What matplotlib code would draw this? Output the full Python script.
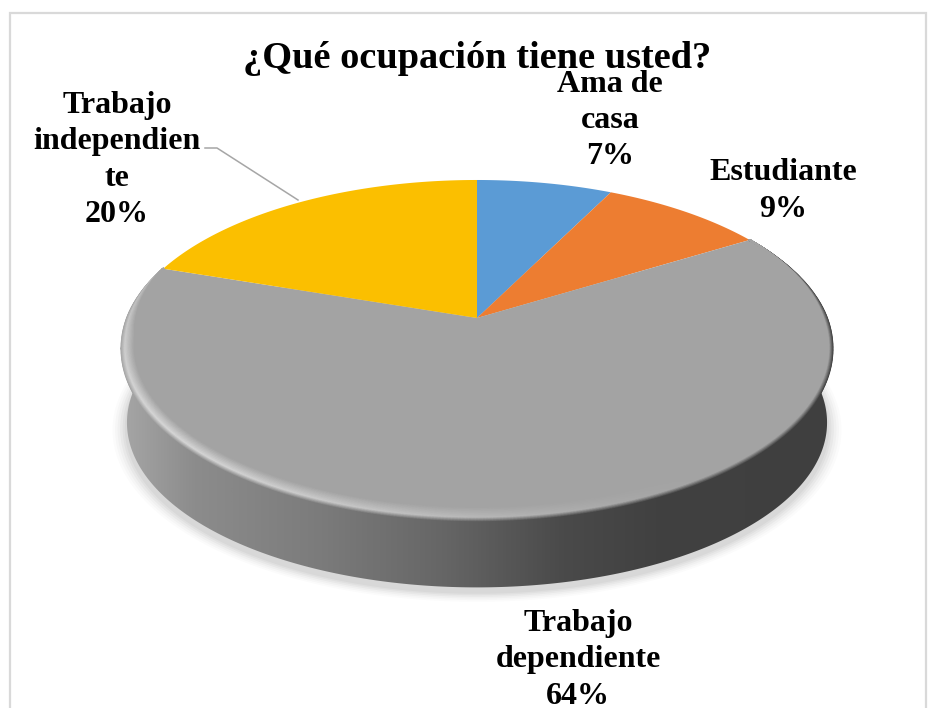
import matplotlib
matplotlib.use('Agg')
import matplotlib.pyplot as plt
import numpy as np
from matplotlib.collections import LineCollection
from matplotlib.colors import LinearSegmentedColormap, to_rgb
from matplotlib.patches import Polygon, Rectangle

title = '¿Qué ocupación tiene usted?'
categories = ['Ama de\ncasa', 'Estudiante', 'Trabajo\ndependiente', 'Trabajo\nindependien\nte']
shares = [7.3, 8.9, 64.0, 19.8]
colors = ['#5b9bd5', '#ed7d31', '#a3a3a3', '#fbbf00']

plt.rcParams['font.family'] = ['Liberation Serif', 'DejaVu Serif']

# pie disc as seen in perspective, everything in image pixels
cx, cy = 477, 318
bx, by, k = 350, 162.3, 0.176
depth = 76


def disc(theta, s=1.0, dy=0.0):
    # theta clockwise from 12 o'clock
    u, v = s * np.sin(theta), s * np.cos(theta)
    d = 1 + k * v
    return np.column_stack([cx + bx * u / d, cy - by * v / d + dy])


fig = plt.figure(figsize=(9.34, 7.08), dpi=100)
ax = fig.add_axes([0, 0, 1, 1])
ax.set_xlim(0, 934)
ax.set_ylim(708, 0)
ax.axis('off')

# chart frame
ax.add_patch(Rectangle((9.5, 13), 916, 720, fc='white', ec='#d9d9d9', lw=1.6))

full = np.linspace(0, 2 * np.pi, 721)

# soft shadow under the side wall
for grow, a in zip([1.04, 1.033, 1.026, 1.019, 1.012, 1.006], [0.015, 0.02, 0.025, 0.03, 0.03, 0.03]):
    ax.add_patch(Polygon(disc(full, grow * 0.985, depth + 5), fc='black', ec='none', alpha=a))

# side wall with a left to right gradient
wall_cmap = LinearSegmentedColormap.from_list('wall', [
    (0.0, '#a6a6a6'), (0.1, '#8c8c8c'), (0.28, '#7b7b7b'), (0.45, '#666666'),
    (0.62, '#4a4a4a'), (0.75, '#414141'), (1.0, '#3f3f3f')])
im = ax.imshow(np.linspace(0, 1, 512)[None, :], cmap=wall_cmap, aspect='auto',
               extent=(122, 834, 600, 300), zorder=2)
ax.set_xlim(0, 934)
ax.set_ylim(708, 0)
lower = full[(full > np.pi / 2 - 0.2) & (full < 3 * np.pi / 2 + 0.2)]
wall_poly = Polygon(np.vstack([disc(lower), disc(lower[::-1], 0.985, depth)]), transform=ax.transData)
im.set_clip_path(wall_poly)

# top face: slices start at 12 o'clock and run clockwise
edges = np.cumsum([0] + shares) / sum(shares) * 2 * np.pi
for a0, a1, c in zip(edges[:-1], edges[1:], colors):
    arc = disc(np.linspace(a0, a1, 200))
    ax.add_patch(Polygon(np.vstack([[cx, cy], arc]), fc=c, ec='none', zorder=3))

# bevelled rim on the grey slice, outer ring first
rim = np.linspace(edges[2], edges[3], 500)
mid = 0.5 * (rim[:-1] + rim[1:])
base = to_rgb(colors[2])[0]
width = 0.037 * np.minimum(np.clip((rim - edges[2]) / np.radians(32), 0, 1),
                           np.clip((edges[3] - rim) / np.radians(25), 0, 1))
drop = 6 * np.clip(-np.cos(rim), 0, 1)
lit = np.clip(np.cos(mid - np.radians(235)), 0, 1) ** 1.6
peak = base + (0.84 - base) * lit
for p in np.linspace(0, 1, 24):
    pts = disc(rim, 1 - width * p, drop * (1 - p))
    segs = np.stack([pts[:-1], pts[1:]], axis=1)
    xm = segs[:, :, 0].mean(axis=1)
    side = np.array(wall_cmap(np.clip((xm - 122) / 712, 0, 1)))[:, 0]
    # upper part of the edge has no wall behind it, keep it nearly flat on the left
    outer = np.where((mid > np.radians(265)), base, side)
    if p < 0.3:
        g = outer + (peak - outer) * (p / 0.3)
    else:
        g = peak + (base - peak) * ((p - 0.3) / 0.7)
    ax.add_collection(LineCollection(segs, colors=np.column_stack([g, g, g]), linewidths=1.3,
                                     zorder=4, capstyle='round'))

ax.text(477, 59, title, fontsize=27.6, fontweight='bold', ha='center', va='center', zorder=6)

# leader line of the independent slice
ax.plot([205, 217, 298], [148, 148, 200], color='#a6a6a6', lw=1.1, zorder=5)

label_pos = [(610, 120.5), (783, 191), (578, 660), (117, 160)]
for name, share, (lx, ly) in zip(categories, shares, label_pos):
    ax.text(lx, ly, f'{name}\n{round(share)}%', fontsize=23, fontweight='bold', ha='center',
            va='center', linespacing=1.32, zorder=7, clip_on=False)

fig.savefig('out.png', dpi=100)
